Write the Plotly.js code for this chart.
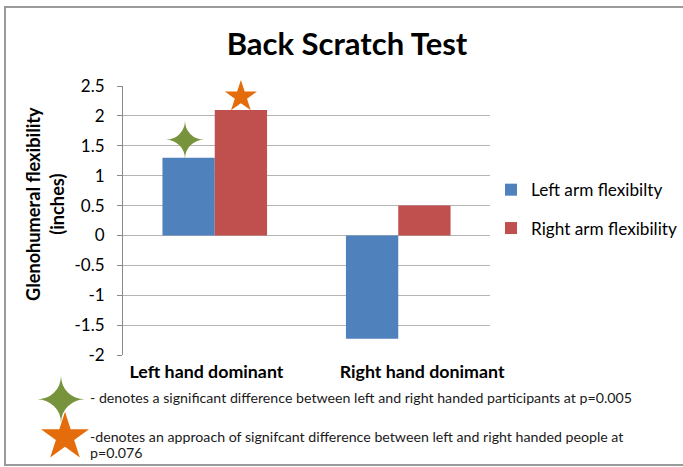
<!DOCTYPE html>
<html><head><meta charset="utf-8">
<script src="https://cdn.plot.ly/plotly-3.0.1.min.js"></script>
<style>html,body{margin:0;padding:0;background:#fff;}#chart{width:683px;height:467px;}</style>
</head><body><div id="chart"></div>
<script>
const categories = ["Left hand dominant", "Right hand donimant"];
const seriesNames = ["Left arm flexibilty", "Right arm flexibility"];
const leftArm = [1.3, -1.73];
const rightArm = [2.1, 0.5];
const yTickValues = [-2, -1.5, -1, -0.5, 0, 0.5, 1, 1.5, 2, 2.5];
const yTickLabels = ["-2", "-1.5", "-1", "-0.5", "0", "0.5", "1", "1.5", "2", "2.5"];
const titleText = "Back Scratch Test";
const yTitleText = "Glenohumeral flexibility<br>(inches)";
const noteLine1 = ["- denotes a significant difference between left and right handed participants at p=0.005"];
const noteLine2 = ["-denotes an approach of signifcant difference between left and right handed people at", "p=0.076"];

const FONT = "Lato, 'Open Sans', sans-serif";
const W = 683, H = 467;
// plot area in pixels
const PL = 123, PR = 490, PT = 86, PB = 355;
const xRange = [-0.5, 1.5], yRange = [-2, 2.5];
const fx = px => px / W;            // figure fraction (paper = whole figure)
const fy = py => 1 - py / H;

const BARGAP = 0.43;
const halfBar = (1 - BARGAP) / 4;
const xIdx = categories.map((c, i) => i);
const BLUE = "#4F81BD", RED = "#C0504D", GREEN = "#77933C", ORANGE = "#E46C0A";
const GRID = "#b4b4b4", AXIS = "#8a8a8a";
const FOURSTAR = "\u2726";

const traces = [
  {type: "bar", name: seriesNames[0], x: xIdx, y: leftArm, marker: {color: BLUE},
   legendgroup: "a", hoverinfo: "y"},
  {type: "bar", name: seriesNames[1], x: xIdx, y: rightArm, marker: {color: RED},
   legendgroup: "b", hoverinfo: "y"},
  // significance markers above the left-hand-dominant bars
  {type: "scatter", mode: "text", showlegend: false, cliponaxis: false,
   x: [xIdx[0] - halfBar - 0.02], y: [leftArm[0] + 0.2], text: [FOURSTAR],
   textposition: "middle center",
   textfont: {family: "DejaVu Sans", size: 50, color: GREEN}},
  {type: "scatter", mode: "markers", showlegend: false, cliponaxis: false,
   x: [xIdx[0] + halfBar], y: [rightArm[0] + 0.22],
   marker: {symbol: "star", size: 24, color: ORANGE, line: {width: 0}}},
  // footnote key symbols (full-figure overlay subplot in pixel units)
  {type: "scatter", mode: "text", showlegend: false, cliponaxis: false, xaxis: "x3", yaxis: "y3",
   x: [61], y: [406], text: [FOURSTAR], textposition: "middle center",
   textfont: {family: "DejaVu Sans", size: 62, color: GREEN}},
  {type: "scatter", mode: "markers", showlegend: false, cliponaxis: false, xaxis: "x3", yaxis: "y3",
   x: [65], y: [437],
   marker: {symbol: "star", size: 36, color: ORANGE, line: {width: 0}}}
];

const yDom = [fy(PB), fy(PT)];
const zeroPos = yDom[0] + (0 - yRange[0]) / (yRange[1] - yRange[0]) * (yDom[1] - yDom[0]);

const noteAnn = (txt, px, py) => ({text: txt, xref: "paper", yref: "paper", x: fx(px), y: fy(py),
  xanchor: "left", yanchor: "middle", showarrow: false, align: "left",
  font: {family: FONT, size: 14.2, color: "#1a1a1a"}});

const layout = {
  width: W, height: H,
  margin: {l: 0, r: 0, t: 0, b: 0, autoexpand: false},
  paper_bgcolor: "#fff", plot_bgcolor: "rgba(0,0,0,0)",
  font: {family: FONT, color: "#000"},
  showlegend: true,
  barmode: "group", bargap: BARGAP, bargroupgap: 0,
  title: {text: "<b>" + titleText + "</b>", font: {family: FONT, size: 31, color: "#000"},
          x: 347 / W, xanchor: "center", xref: "container",
          y: 1 - 44 / H, yanchor: "middle", yref: "container"},
  xaxis: {domain: [fx(PL), fx(PR)], range: xRange, anchor: "y",
          tickvals: [xIdx[0] - 0.045, xIdx[1] + 0.13], ticktext: categories.map(c => "<b>" + c + "</b>"),
          tickfont: {family: FONT, size: 17.8, color: "#000"}, showgrid: false, zeroline: false,
          showline: false, ticks: "", ticklabelstandoff: 4, fixedrange: true},
  xaxis2: {domain: [fx(PL), fx(PR)], range: xRange, overlaying: "x", anchor: "free", position: zeroPos, side: "bottom",
           showline: true, linecolor: AXIS, linewidth: 1, ticks: "outside", ticklen: 5,
           tickcolor: AXIS, tickvals: [-0.5, 0.5, 1.5], showticklabels: false,
           showgrid: false, zeroline: false, fixedrange: true},
  yaxis: {domain: yDom, range: yRange, anchor: "x", tickvals: yTickValues, ticktext: yTickLabels,
          tickfont: {family: FONT, size: 17, color: "#000"},
          showgrid: true, gridcolor: GRID, gridwidth: 1, zeroline: false,
          showline: true, linecolor: AXIS, linewidth: 1,
          ticks: "outside", ticklen: 5, tickcolor: AXIS, ticklabelstandoff: 9, fixedrange: true},
  xaxis3: {domain: [0, 1], range: [0, W], anchor: "y3", visible: false, fixedrange: true},
  yaxis3: {domain: [0, 1], range: [H, 0], anchor: "x3", visible: false, fixedrange: true},
  legend: {x: fx(491), xanchor: "left", y: fy(172), yanchor: "top",
           font: {family: FONT, size: 17.2, color: "#000"}, traceorder: "grouped",
           tracegroupgap: 13, bgcolor: "rgba(0,0,0,0)"},
  annotations: [
    {text: "<b>" + yTitleText + "</b>", textangle: -90, xref: "paper", yref: "paper",
     x: fx(45), y: fy(204), xanchor: "center", yanchor: "middle", showarrow: false,
     font: {family: FONT, size: 18.2, color: "#000"}},
    noteAnn(noteLine1[0], 88, 397),
    noteAnn(noteLine2[0], 88, 436),
    noteAnn(noteLine2[1], 88, 452)
  ],
  shapes: [
    {type: "rect", xref: "paper", yref: "paper", x0: fx(5), x1: fx(700),
     y0: fy(465), y1: fy(7), line: {color: "#9a9a9a", width: 2}, layer: "below"}
  ]
};

Plotly.newPlot("chart", traces, layout, {displayModeBar: false, staticPlot: true});
</script>
</body></html>
